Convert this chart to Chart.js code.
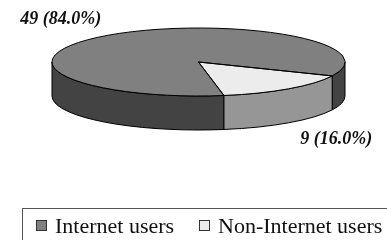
<!DOCTYPE html>
<html>
<head>
<meta charset="utf-8">
<script src="https://cdn.jsdelivr.net/npm/chart.js@4.4.1/dist/chart.umd.min.js"></script>
<style>
  html, body { margin: 0; padding: 0; background: #fff; overflow: hidden; }
  #wrap { position: relative; width: 387px; height: 240px; }
  #legend {
    position: absolute; left: 22px; top: 208px; width: 400px; height: 50px;
    border: 1px solid #555; box-sizing: border-box;
    font-family: "Liberation Serif", "Times New Roman", serif; font-size: 22px; color: #111;
    white-space: nowrap;
  }
  #legend span.item { position: absolute; top: 4px; }
  #legend i {
    display: inline-block; width: 9px; height: 9px; border: 1px solid #333;
    margin-right: 8px; vertical-align: 2px;
  }
</style>
</head>
<body>
<div id="wrap">
  <canvas id="pie" width="387" height="240"></canvas>
  <div id="legend"></div>
</div>
<script>
// data
const categories = ['Internet users', 'Non-Internet users'];
const counts = [49, 9];
const percents = [84.0, 16.0];

const topColors = ['#808080', '#ececec'];
const sideColors = ['#434343', '#969696'];

// 3d look: where the flattened pie sits on the page
const CX = 198.5, CY = 62, RX = 146.5, RY = 34, DEPTH = 34;

function frontParts(a, b) {
  // pieces of [a, b] that face the viewer (sin > 0)
  let parts = [];
  for (let k = -1; k <= 2; k++) {
    const s = Math.max(a, k * 2 * Math.PI), e = Math.min(b, k * 2 * Math.PI + Math.PI);
    if (e > s) parts.push([s, e]);
  }
  return parts;
}

const tiltPlugin = {
  id: 'tilt',
  beforeDatasetsDraw(chart) {
    const ctx = chart.ctx;
    const arcs = chart.getDatasetMeta(0).data;
    ctx.save();
    ctx.lineWidth = 1;
    ctx.strokeStyle = '#000';
    arcs.forEach((arc, i) => {
      frontParts(arc.startAngle, arc.endAngle).forEach(([s, e]) => {
        ctx.beginPath();
        ctx.ellipse(CX, CY, RX, RY, 0, s, e);
        ctx.ellipse(CX, CY + DEPTH, RX, RY, 0, e, s, true);
        ctx.closePath();
        ctx.fillStyle = sideColors[i];
        ctx.fill();
        ctx.stroke();
      });
    });
    ctx.restore();

    // squash the library's round pie into the top face
    const a0 = arcs[0];
    ctx.save();
    ctx.translate(CX, CY);
    ctx.scale(RX / a0.outerRadius, RY / a0.outerRadius);
    ctx.translate(-a0.x, -a0.y);
  },
  afterDatasetsDraw(chart) {
    const ctx = chart.ctx;
    ctx.restore();
    const arcs = chart.getDatasetMeta(0).data;
    ctx.save();
    ctx.lineWidth = 1;
    ctx.strokeStyle = '#000';
    arcs.forEach(arc => {
      ctx.beginPath();
      ctx.moveTo(CX, CY);
      ctx.ellipse(CX, CY, RX, RY, 0, arc.startAngle, arc.endAngle);
      ctx.closePath();
      ctx.stroke();
    });

    ctx.font = 'italic bold 18px "Liberation Serif", serif';
    ctx.fillStyle = '#111';
    ctx.textAlign = 'center';
    ctx.textBaseline = 'middle';
    arcs.forEach((arc, i) => {
      const m = (arc.startAngle + arc.endAngle) / 2;
      const x = CX + 1.53 * RX * Math.cos(m);
      const y = CY + 1.6 * RY * Math.sin(m) + (Math.sin(m) > 0 ? DEPTH : 0);
      ctx.fillText(counts[i] + ' (' + percents[i].toFixed(1) + '%)', x, y);
    });
    ctx.restore();
  }
};

const chart = new Chart(document.getElementById('pie'), {
  type: 'pie',
  data: {
    labels: categories,
    datasets: [{
      data: counts,
      backgroundColor: topColors,
      borderWidth: 0
    }]
  },
  options: {
    responsive: false,
    animation: false,
    rotation: 170,
    plugins: {
      legend: { display: false },
      tooltip: { enabled: false }
    }
  },
  plugins: [tiltPlugin]
});

// html legend from the chart's own legend items
const legendItems = chart.options.plugins.legend.labels.generateLabels(chart);
const lefts = [13, 176];
document.getElementById('legend').innerHTML = legendItems.map((item, i) =>
  '<span class="item" style="left:' + lefts[i] + 'px"><i style="background:' + item.fillStyle + '"></i>' + item.text + '</span>'
).join('');
</script>
</body>
</html>
